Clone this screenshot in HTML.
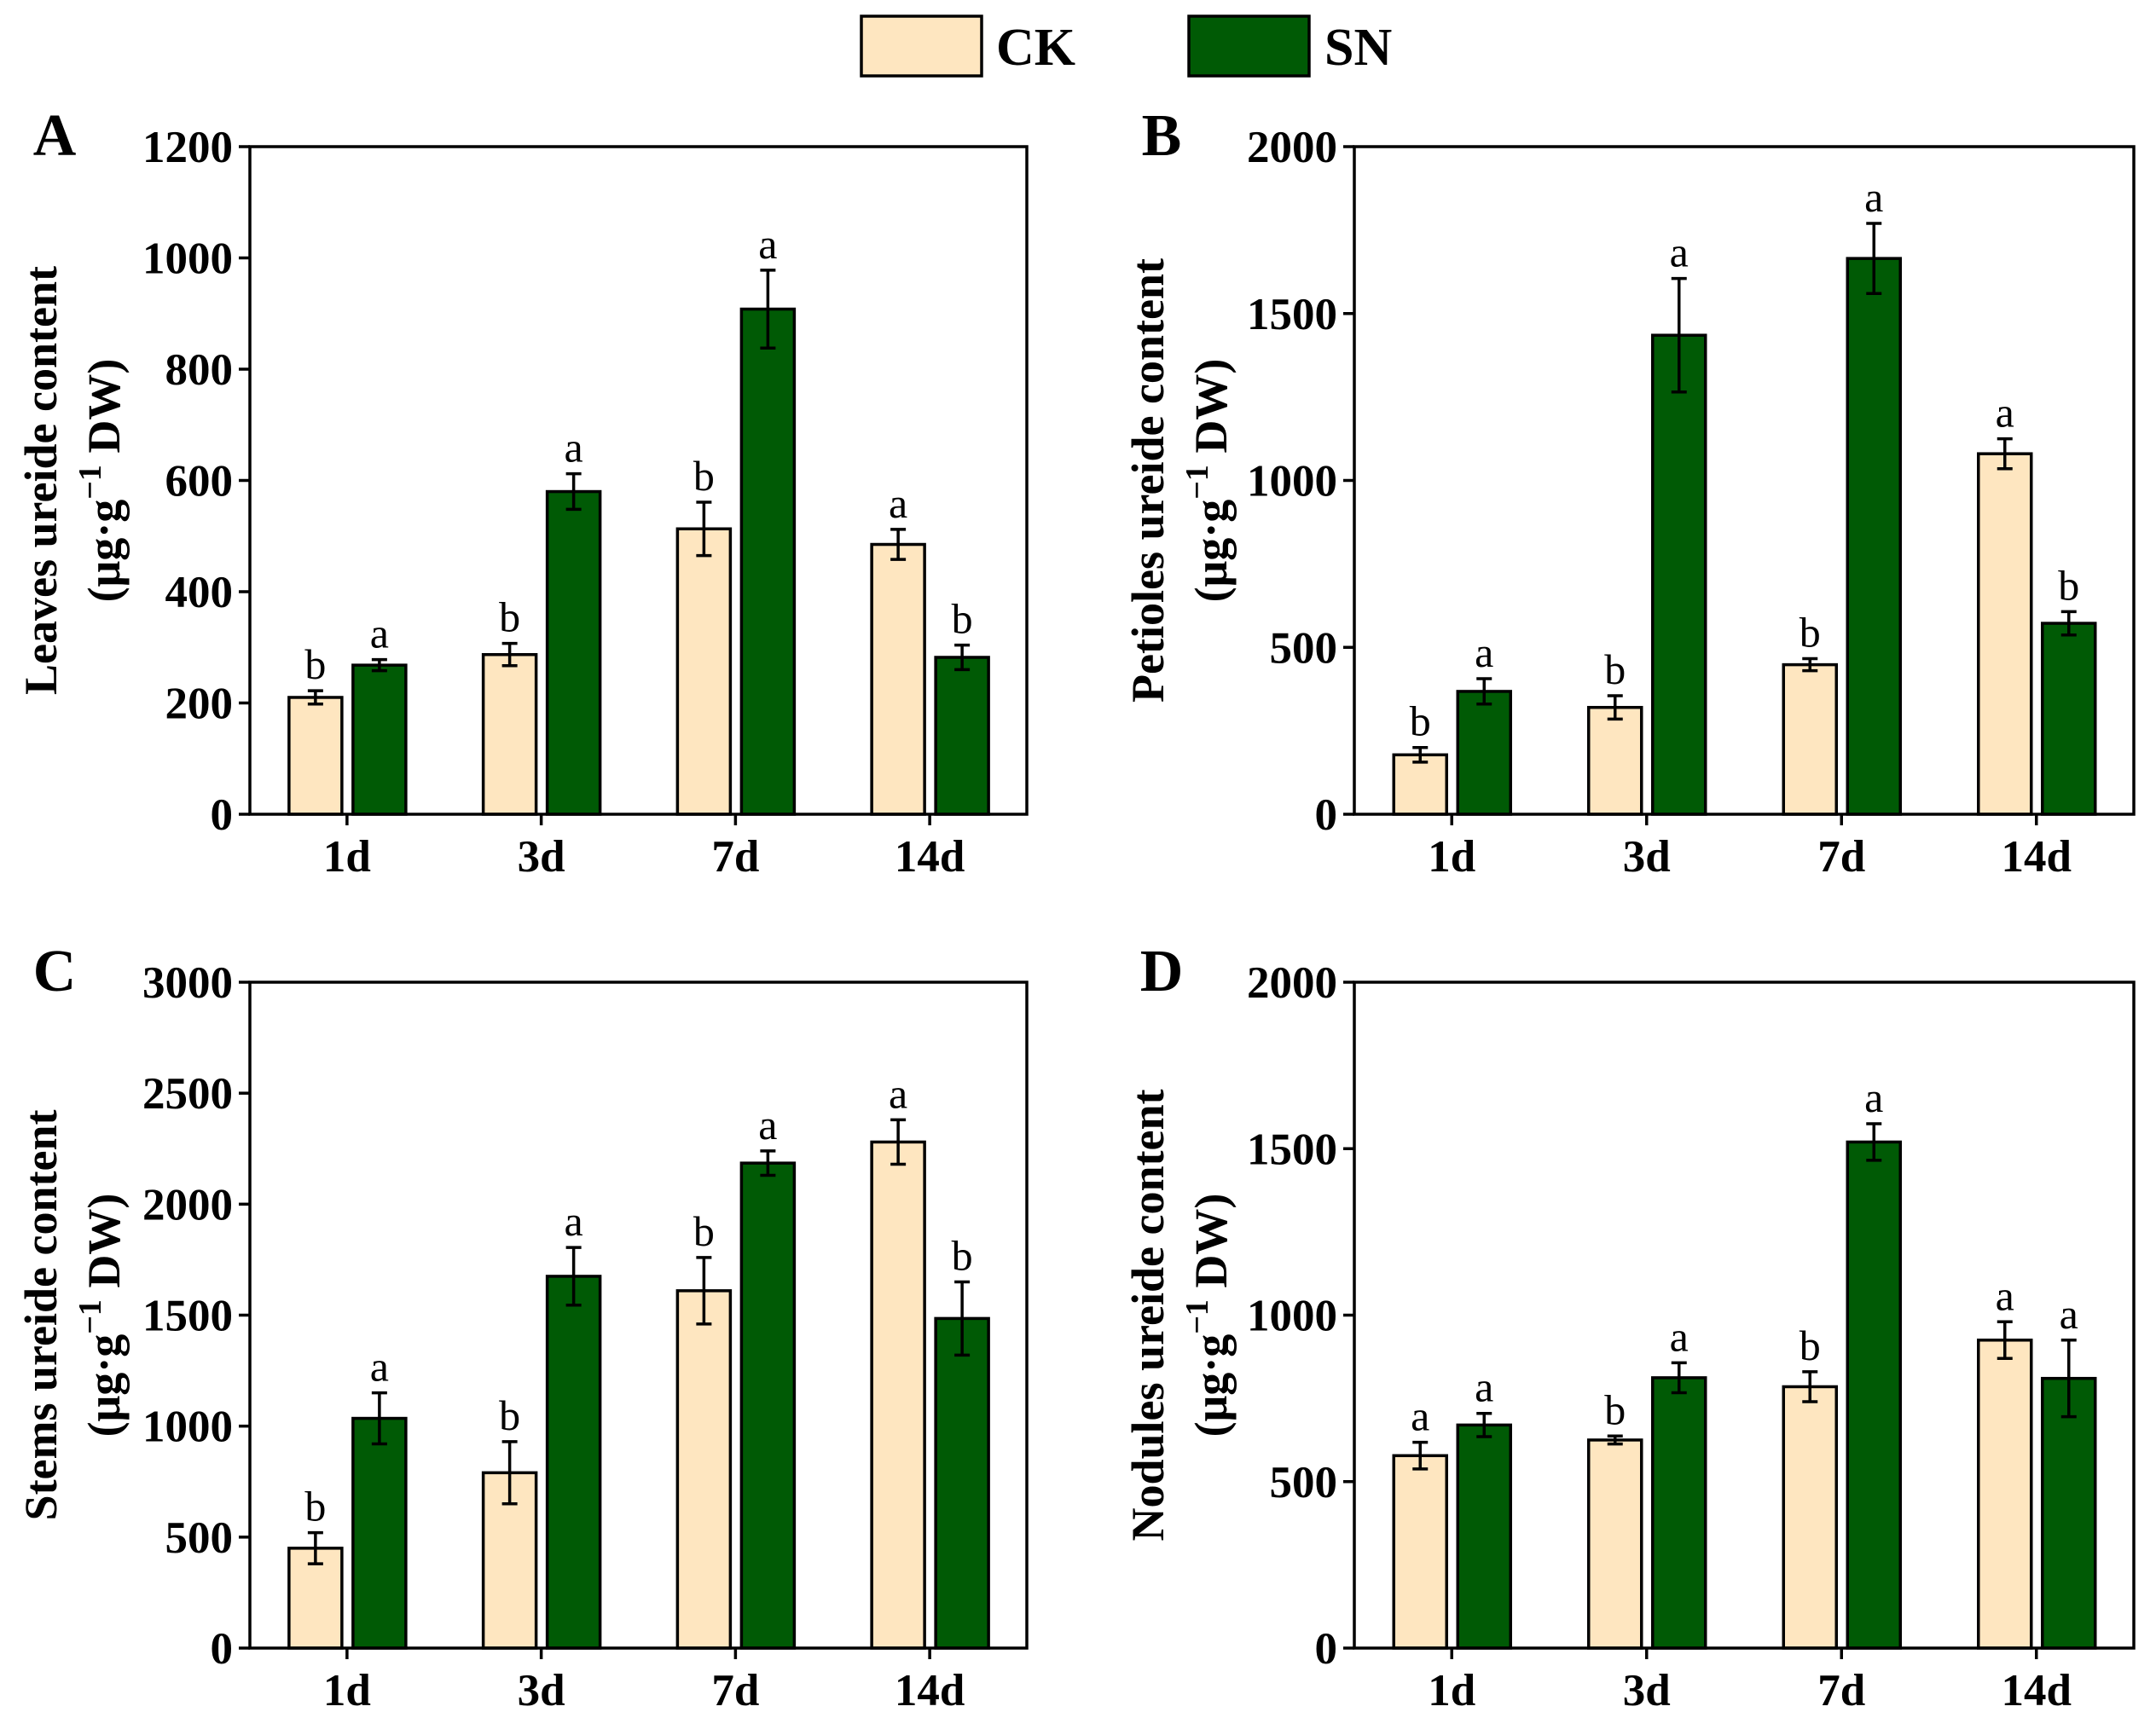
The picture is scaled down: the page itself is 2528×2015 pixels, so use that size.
<!DOCTYPE html>
<html><head><meta charset="utf-8"><style>
html,body{margin:0;padding:0;background:#fff;}
svg{display:block;font-family:"Liberation Serif","DejaVu Serif",serif;}
</style></head><body>
<svg id="fig" width="2528" height="2015" viewBox="0 0 2528 2015" xmlns="http://www.w3.org/2000/svg">
<g>
<rect x="1010" y="19" width="141" height="70" fill="#FEE6C0" stroke="#000" stroke-width="3.5"/>
<text x="1168" y="76" font-size="62" font-weight="bold">CK</text>
<rect x="1394" y="19" width="141" height="70" fill="#005A05" stroke="#000" stroke-width="3.5"/>
<text x="1553" y="76" font-size="62" font-weight="bold">SN</text>
</g>
</svg>
<script>
const categories = ["1d","3d","7d","14d"];
const aCK = [210,287,513,485], aCKerr=[12,20,48,27], aSN=[268,580,908,282], aSNerr=[10,32,70,22];
const aCKsig=["b","b","b","a"], aSNsig=["a","a","a","b"];
const bCK = [178,320,448,1080], bCKerr=[22,35,18,45], bSN=[368,1435,1665,572], bSNerr=[38,170,105,35];
const bCKsig=["b","b","b","a"], bSNsig=["a","a","a","b"];
const cCK = [450,790,1610,2280], cCKerr=[70,140,150,100], cSN=[1035,1675,2185,1485], cSNerr=[115,130,55,165];
const cCKsig=["b","b","b","a"], cSNsig=["a","a","a","b"];
const dCK = [578,625,785,925], dCKerr=[40,12,45,55], dSN=[670,812,1520,810], dSNerr=[35,45,55,115];
const dCKsig=["a","b","b","a"], dSNsig=["a","a","a","a"];
const aTicks=[0,200,400,600,800,1000,1200], bTicks=[0,500,1000,1500,2000], cTicks=[0,500,1000,1500,2000,2500,3000], dTicks=[0,500,1000,1500,2000];

const NS="http://www.w3.org/2000/svg";
const svg=document.getElementById('fig');
function mk(tag,attrs,parent){const e=document.createElementNS(NS,tag);for(const k in attrs)e.setAttribute(k,attrs[k]);(parent||svg).appendChild(e);return e;}

function panel(id,letter,L,R,T,B,ticks,ck,ckE,sn,snE,ckS,snS,t1,letterX,titleX){
  const g=mk('g',{});
  
  
  const max=ticks[ticks.length-1];
  const y=v=>B-(v/max)*(B-T);
  const gw=(R-L)/categories.length;
  const x=i=>L+gw*(i+0.5);
  const bw=62;
  categories.forEach((c,i)=>{
    [[ck,ckE,ckS,-37,'#FEE6C0','ck'],[sn,snE,snS,38,'#005A05','sn']].forEach(([vals,errs,sig,off,col,nm])=>{
      const cx=x(i)+off, v=vals[i], e=errs[i];
      const r=mk('rect',{x:cx-bw/2,y:y(v),width:bw,height:B-y(v),fill:col,stroke:'#000','stroke-width':3.5},g);
      
      
      const eb=mk('path',{d:`M${cx},${y(v+e)}V${y(v-e)}M${cx-9},${y(v+e)}H${cx+9}M${cx-9},${y(v-e)}H${cx+9}`,stroke:'#000','stroke-width':3.5,fill:'none'},g);
      
      
      const s=mk('text',{x:cx,y:y(v+e)-14,'font-size':50,'text-anchor':'middle'},g);
      s.textContent=sig[i];
      
      
    });
  });
  const f=mk('rect',{x:L,y:T,width:R-L,height:B-T,fill:'none',stroke:'#000','stroke-width':3.5},g);
  
  
  ticks.forEach(t=>{
    mk('line',{x1:L-13,x2:L,y1:y(t),y2:y(t),stroke:'#000','stroke-width':3.5},g);
    const tl=mk('text',{x:L-20,y:y(t)+18,'font-size':53,'font-weight':'bold','text-anchor':'end'},g);
    tl.textContent=t;
    
    
  });
  categories.forEach((c,i)=>{
    mk('line',{x1:x(i),x2:x(i),y1:B,y2:B+13,stroke:'#000','stroke-width':3.5},g);
    const xl=mk('text',{x:x(i),y:B+67,'font-size':53,'font-weight':'bold','text-anchor':'middle'},g);
    xl.textContent=c;
    
    
  });
  const pl=mk('text',{x:letterX,y:T+10,'font-size':70,'font-weight':'bold','text-anchor':'middle'},g);
  pl.textContent=letter;
  
  
  const cy=(T+B)/2;
  const yt=mk('text',{x:titleX,y:cy,'font-size':54,'font-weight':'bold','text-anchor':'middle',transform:`rotate(-90 ${titleX} ${cy})`},g);
  yt.textContent=t1;
  
  
  const x2=titleX+74;
  const yt2=mk('text',{x:x2,y:cy,'font-size':54,'font-weight':'bold','text-anchor':'middle',transform:`rotate(-90 ${x2} ${cy})`},g);
  yt2.innerHTML='(μg·g<tspan dy="-22" font-size="38">−1</tspan><tspan dy="22"> DW)</tspan>';
  
  
}
panel('a','A',293,1204,172,955,aTicks,aCK,aCKerr,aSN,aSNerr,aCKsig,aSNsig,'Leaves ureide content',64,66);
panel('b','B',1588,2502,172,955,bTicks,bCK,bCKerr,bSN,bSNerr,bCKsig,bSNsig,'Petioles ureide content',1362,1364);
panel('c','C',293,1204,1152,1933,cTicks,cCK,cCKerr,cSN,cSNerr,cCKsig,cSNsig,'Stems ureide content',64,66);
panel('d','D',1588,2502,1152,1933,dTicks,dCK,dCKerr,dSN,dSNerr,dCKsig,dSNsig,'Nodules ureide content',1362,1364);
</script>
</body></html>
